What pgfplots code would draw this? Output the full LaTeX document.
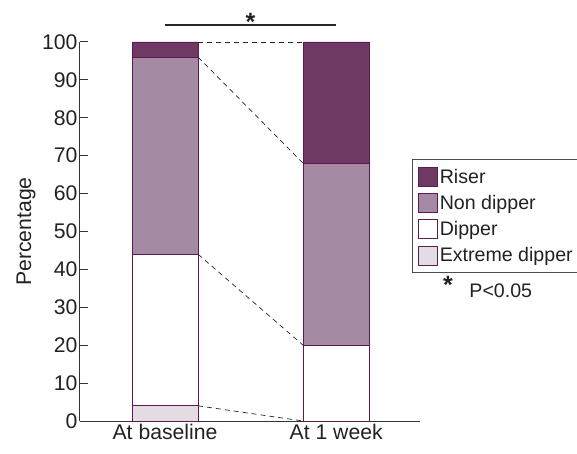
\documentclass[border=0pt]{standalone}
\usepackage{fontspec}
\setmainfont{Liberation Sans}
\usepackage{pgfplots}
\pgfplotsset{compat=1.18}
\definecolor{riser}{HTML}{6E3A64}
\definecolor{nondip}{HTML}{A48AA2}
\definecolor{extdip}{HTML}{E4DCE3}
\definecolor{edge}{HTML}{5C1A52}
\definecolor{txt}{HTML}{222222}
\begin{document}
\begin{tikzpicture}
\begin{axis}[
  name=ax,
  scale only axis,
  width=340pt, height=379pt,
  xmin=0.503, xmax=2.49,
  ymin=0, ymax=100,
  ybar stacked,
  bar width=0.386,
  axis x line*=bottom, axis y line*=left,
  axis line style={line width=1pt, draw=black!80},
  tick align=inside,
  major tick length=8pt,
  ytick={0,10,...,100},
  xtick={1,2},
  xticklabels={At baseline, At 1 week},
  xtick style={draw=none},
  ytick style={line width=1pt, draw=black!80},
  tick label style={font=\fontsize{21.2}{25}\selectfont, text=txt},
  yticklabel style={xshift=1pt},
  /pgf/number format/assume math mode=true,
  ylabel={Percentage},
  ylabel style={font=\fontsize{21.2}{25}\selectfont, text=txt, at={(rel axis cs:0,0.5)}, anchor=center, yshift=54pt},
  clip=false,
  reverse legend,
  legend style={at={(rel axis cs:0.976,0.691)}, anchor=north west, draw=black!70, line width=0.6pt,
    font=\fontsize{19.6}{23}\selectfont, text=txt, row sep=6.5pt, inner xsep=6pt, inner ysep=7.5pt},
  legend cell align=left,
  legend image code/.code={\draw[#1, draw=edge, line width=0.7pt] (0pt,-9.5pt) rectangle (19pt,9.5pt);},
]
\addplot[fill=extdip, draw=edge, line width=0.8pt] coordinates {(1,4) (2,0)};
\addplot[fill=white, draw=edge, line width=0.8pt] coordinates {(1,40) (2,20)};
\addplot[fill=nondip, draw=edge, line width=0.8pt] coordinates {(1,52) (2,48)};
\addplot[fill=riser, draw=edge, line width=0.8pt] coordinates {(1,4) (2,32)};
\legend{Extreme dipper, Dipper, Non dipper, Riser}
\node[anchor=west, font=\fontsize{19.6}{23}\selectfont, text=txt] at (rel axis cs:1.135,0.343) {P<0.05};
\node[anchor=center, font=\fontsize{25}{27}\bfseries, text=txt] at (rel axis cs:1.082,0.36) {*};
\end{axis}
\begin{axis}[
  scale only axis,
  width=340pt, height=379pt,
  xmin=0.503, xmax=2.49,
  ymin=0, ymax=100,
  hide axis, clip=false,
]
\addplot[dashed, dash pattern=on 5pt off 4pt, line width=0.7pt, black!85] coordinates {(1.193,100) (1.807,100)};
\addplot[dashed, dash pattern=on 5pt off 4pt, line width=0.7pt, black!85] coordinates {(1.193,96) (1.807,68)};
\addplot[dashed, dash pattern=on 5pt off 4pt, line width=0.7pt, black!85] coordinates {(1.193,44) (1.807,20)};
\addplot[dashed, dash pattern=on 5pt off 4pt, line width=0.7pt, black!85] coordinates {(1.193,4) (1.807,0)};
\addplot[line width=1.2pt, black!85] coordinates {(1,104.5) (2,104.5)};
\node[font=\fontsize{25}{27}\bfseries, text=txt] at (axis cs:1.5,105.4) {*};
\end{axis}
\pgfresetboundingbox
\path[use as bounding box] ([shift={(-80pt,-32pt)}]ax.south west) rectangle ([shift={(157pt,42pt)}]ax.north east);
\end{tikzpicture}
\end{document}
